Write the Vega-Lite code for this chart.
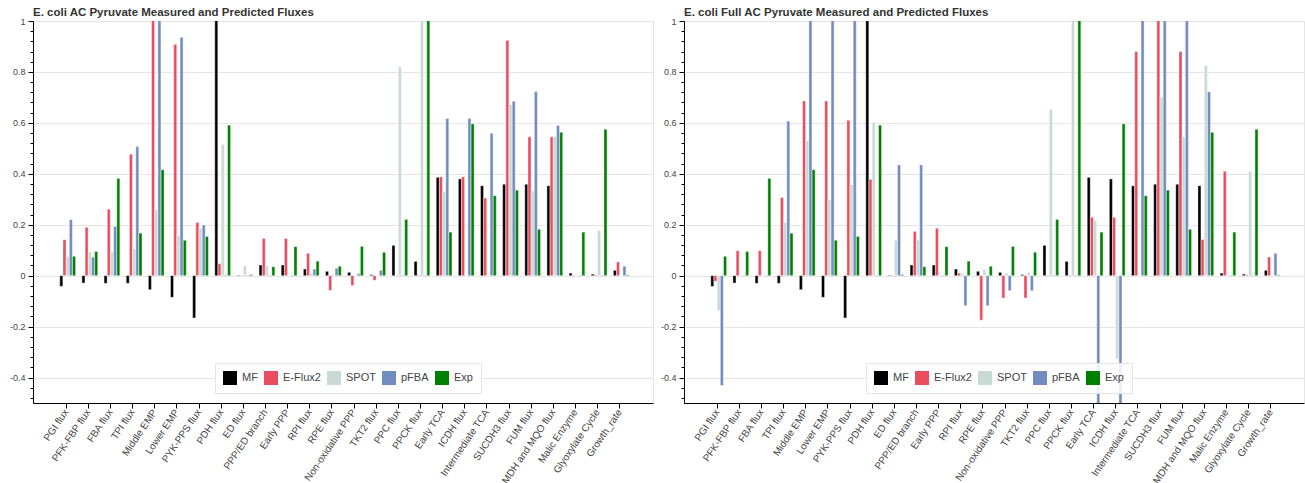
{
  "$schema": "https://vega.github.io/schema/vega-lite/v6.json",
  "padding": {"left": 3, "top": 6, "right": 2, "bottom": 0},
  "spacing": 0,
  "config": {
    "font": "Liberation Sans",
    "view": {"stroke": "#e5e5e5"},
    "axis": {"labelColor": "#444", "labelFont": "Liberation Sans", "domainColor": "#000", "tickColor": "#000", "gridColor": "#e5e5e5", "titleFontSize": 0}
  },
  "resolve": {"legend": {"color": "independent"}},
  "datasets": {
    "left": [
      {"cat": "PGI flux", "method": "MF", "value": -0.042}, {"cat": "PGI flux", "method": "E-Flux2", "value": 0.141}, {"cat": "PGI flux", "method": "SPOT", "value": 0.075}, {"cat": "PGI flux", "method": "pFBA", "value": 0.22}, {"cat": "PGI flux", "method": "Exp", "value": 0.076},
      {"cat": "PFK-FBP flux", "method": "MF", "value": -0.029}, {"cat": "PFK-FBP flux", "method": "E-Flux2", "value": 0.19}, {"cat": "PFK-FBP flux", "method": "SPOT", "value": 0.093}, {"cat": "PFK-FBP flux", "method": "pFBA", "value": 0.073}, {"cat": "PFK-FBP flux", "method": "Exp", "value": 0.095},
      {"cat": "FBA flux", "method": "MF", "value": -0.03}, {"cat": "FBA flux", "method": "E-Flux2", "value": 0.261}, {"cat": "FBA flux", "method": "SPOT", "value": 0.093}, {"cat": "FBA flux", "method": "pFBA", "value": 0.193}, {"cat": "FBA flux", "method": "Exp", "value": 0.382},
      {"cat": "TPI flux", "method": "MF", "value": -0.03}, {"cat": "TPI flux", "method": "E-Flux2", "value": 0.477}, {"cat": "TPI flux", "method": "SPOT", "value": 0.105}, {"cat": "TPI flux", "method": "pFBA", "value": 0.507}, {"cat": "TPI flux", "method": "Exp", "value": 0.167},
      {"cat": "Middle EMP", "method": "MF", "value": -0.055}, {"cat": "Middle EMP", "method": "E-Flux2", "value": 1.2}, {"cat": "Middle EMP", "method": "SPOT", "value": 0.259}, {"cat": "Middle EMP", "method": "pFBA", "value": 1.2}, {"cat": "Middle EMP", "method": "Exp", "value": 0.416},
      {"cat": "Lower EMP", "method": "MF", "value": -0.085}, {"cat": "Lower EMP", "method": "E-Flux2", "value": 0.908}, {"cat": "Lower EMP", "method": "SPOT", "value": 0.158}, {"cat": "Lower EMP", "method": "pFBA", "value": 0.936}, {"cat": "Lower EMP", "method": "Exp", "value": 0.139},
      {"cat": "PYK-PPS flux", "method": "MF", "value": -0.166}, {"cat": "PYK-PPS flux", "method": "E-Flux2", "value": 0.209}, {"cat": "PYK-PPS flux", "method": "SPOT", "value": 0.187}, {"cat": "PYK-PPS flux", "method": "pFBA", "value": 0.199}, {"cat": "PYK-PPS flux", "method": "Exp", "value": 0.154},
      {"cat": "PDH flux", "method": "MF", "value": 1.2}, {"cat": "PDH flux", "method": "E-Flux2", "value": 0.047}, {"cat": "PDH flux", "method": "SPOT", "value": 0.515}, {"cat": "PDH flux", "method": "pFBA", "value": 0.003}, {"cat": "PDH flux", "method": "Exp", "value": 0.591},
      {"cat": "ED flux", "method": "MF", "value": 0.002}, {"cat": "ED flux", "method": "E-Flux2", "value": 0.002}, {"cat": "ED flux", "method": "SPOT", "value": 0.039}, {"cat": "ED flux", "method": "pFBA", "value": 0.002}, {"cat": "ED flux", "method": "Exp", "value": 0.004},
      {"cat": "PPP/ED branch", "method": "MF", "value": 0.042}, {"cat": "PPP/ED branch", "method": "E-Flux2", "value": 0.146}, {"cat": "PPP/ED branch", "method": "SPOT", "value": 0.039}, {"cat": "PPP/ED branch", "method": "pFBA", "value": 0.002}, {"cat": "PPP/ED branch", "method": "Exp", "value": 0.035},
      {"cat": "Early PPP", "method": "MF", "value": 0.042}, {"cat": "Early PPP", "method": "E-Flux2", "value": 0.146}, {"cat": "Early PPP", "method": "SPOT", "value": 0}, {"cat": "Early PPP", "method": "pFBA", "value": 0.002}, {"cat": "Early PPP", "method": "Exp", "value": 0.114},
      {"cat": "RPI flux", "method": "MF", "value": 0.026}, {"cat": "RPI flux", "method": "E-Flux2", "value": 0.088}, {"cat": "RPI flux", "method": "SPOT", "value": 0.01}, {"cat": "RPI flux", "method": "pFBA", "value": 0.026}, {"cat": "RPI flux", "method": "Exp", "value": 0.057},
      {"cat": "RPE flux", "method": "MF", "value": 0.017}, {"cat": "RPE flux", "method": "E-Flux2", "value": -0.058}, {"cat": "RPE flux", "method": "SPOT", "value": 0.006}, {"cat": "RPE flux", "method": "pFBA", "value": 0.029}, {"cat": "RPE flux", "method": "Exp", "value": 0.037},
      {"cat": "Non-oxidative PPP", "method": "MF", "value": 0.013}, {"cat": "Non-oxidative PPP", "method": "E-Flux2", "value": -0.039}, {"cat": "Non-oxidative PPP", "method": "SPOT", "value": 0}, {"cat": "Non-oxidative PPP", "method": "pFBA", "value": 0.008}, {"cat": "Non-oxidative PPP", "method": "Exp", "value": 0.115},
      {"cat": "TKT2 flux", "method": "MF", "value": 0.004}, {"cat": "TKT2 flux", "method": "E-Flux2", "value": -0.018}, {"cat": "TKT2 flux", "method": "SPOT", "value": 0}, {"cat": "TKT2 flux", "method": "pFBA", "value": 0.021}, {"cat": "TKT2 flux", "method": "Exp", "value": 0.092},
      {"cat": "PPC flux", "method": "MF", "value": 0.119}, {"cat": "PPC flux", "method": "E-Flux2", "value": 0.002}, {"cat": "PPC flux", "method": "SPOT", "value": 0.82}, {"cat": "PPC flux", "method": "pFBA", "value": 0.002}, {"cat": "PPC flux", "method": "Exp", "value": 0.221},
      {"cat": "PPCK flux", "method": "MF", "value": 0.056}, {"cat": "PPCK flux", "method": "E-Flux2", "value": 0.002}, {"cat": "PPCK flux", "method": "SPOT", "value": 1.2}, {"cat": "PPCK flux", "method": "pFBA", "value": 0.002}, {"cat": "PPCK flux", "method": "Exp", "value": 1.2},
      {"cat": "Early TCA", "method": "MF", "value": 0.386}, {"cat": "Early TCA", "method": "E-Flux2", "value": 0.388}, {"cat": "Early TCA", "method": "SPOT", "value": 0.329}, {"cat": "Early TCA", "method": "pFBA", "value": 0.617}, {"cat": "Early TCA", "method": "Exp", "value": 0.171},
      {"cat": "ICDH flux", "method": "MF", "value": 0.38}, {"cat": "ICDH flux", "method": "E-Flux2", "value": 0.388}, {"cat": "ICDH flux", "method": "SPOT", "value": 0}, {"cat": "ICDH flux", "method": "pFBA", "value": 0.617}, {"cat": "ICDH flux", "method": "Exp", "value": 0.596},
      {"cat": "Intermediate TCA", "method": "MF", "value": 0.353}, {"cat": "Intermediate TCA", "method": "E-Flux2", "value": 0.305}, {"cat": "Intermediate TCA", "method": "SPOT", "value": 0}, {"cat": "Intermediate TCA", "method": "pFBA", "value": 0.559}, {"cat": "Intermediate TCA", "method": "Exp", "value": 0.314},
      {"cat": "SUCDH3 flux", "method": "MF", "value": 0.359}, {"cat": "SUCDH3 flux", "method": "E-Flux2", "value": 0.924}, {"cat": "SUCDH3 flux", "method": "SPOT", "value": 0.672}, {"cat": "SUCDH3 flux", "method": "pFBA", "value": 0.685}, {"cat": "SUCDH3 flux", "method": "Exp", "value": 0.336},
      {"cat": "FUM flux", "method": "MF", "value": 0.359}, {"cat": "FUM flux", "method": "E-Flux2", "value": 0.545}, {"cat": "FUM flux", "method": "SPOT", "value": 0.333}, {"cat": "FUM flux", "method": "pFBA", "value": 0.723}, {"cat": "FUM flux", "method": "Exp", "value": 0.182},
      {"cat": "MDH and MQO flux", "method": "MF", "value": 0.353}, {"cat": "MDH and MQO flux", "method": "E-Flux2", "value": 0.545}, {"cat": "MDH and MQO flux", "method": "SPOT", "value": 0.546}, {"cat": "MDH and MQO flux", "method": "pFBA", "value": 0.59}, {"cat": "MDH and MQO flux", "method": "Exp", "value": 0.563},
      {"cat": "Malic Enzyme", "method": "MF", "value": 0.01}, {"cat": "Malic Enzyme", "method": "E-Flux2", "value": 0.002}, {"cat": "Malic Enzyme", "method": "SPOT", "value": 0}, {"cat": "Malic Enzyme", "method": "pFBA", "value": 0.002}, {"cat": "Malic Enzyme", "method": "Exp", "value": 0.171},
      {"cat": "Glyoxylate Cycle", "method": "MF", "value": 0.006}, {"cat": "Glyoxylate Cycle", "method": "E-Flux2", "value": 0.003}, {"cat": "Glyoxylate Cycle", "method": "SPOT", "value": 0.178}, {"cat": "Glyoxylate Cycle", "method": "pFBA", "value": 0.002}, {"cat": "Glyoxylate Cycle", "method": "Exp", "value": 0.575},
      {"cat": "Growth_rate", "method": "MF", "value": 0.021}, {"cat": "Growth_rate", "method": "E-Flux2", "value": 0.054}, {"cat": "Growth_rate", "method": "SPOT", "value": 0}, {"cat": "Growth_rate", "method": "pFBA", "value": 0.037}, {"cat": "Growth_rate", "method": "Exp", "value": 0.003}
    ],
    "right": [
      {"cat": "PGI flux", "method": "MF", "value": -0.042}, {"cat": "PGI flux", "method": "E-Flux2", "value": -0.022}, {"cat": "PGI flux", "method": "SPOT", "value": -0.137}, {"cat": "PGI flux", "method": "pFBA", "value": -0.431}, {"cat": "PGI flux", "method": "Exp", "value": 0.076},
      {"cat": "PFK-FBP flux", "method": "MF", "value": -0.029}, {"cat": "PFK-FBP flux", "method": "E-Flux2", "value": 0.098}, {"cat": "PFK-FBP flux", "method": "SPOT", "value": 0}, {"cat": "PFK-FBP flux", "method": "pFBA", "value": 0.002}, {"cat": "PFK-FBP flux", "method": "Exp", "value": 0.095},
      {"cat": "FBA flux", "method": "MF", "value": -0.03}, {"cat": "FBA flux", "method": "E-Flux2", "value": 0.098}, {"cat": "FBA flux", "method": "SPOT", "value": 0}, {"cat": "FBA flux", "method": "pFBA", "value": 0.002}, {"cat": "FBA flux", "method": "Exp", "value": 0.382},
      {"cat": "TPI flux", "method": "MF", "value": -0.03}, {"cat": "TPI flux", "method": "E-Flux2", "value": 0.307}, {"cat": "TPI flux", "method": "SPOT", "value": 0.209}, {"cat": "TPI flux", "method": "pFBA", "value": 0.607}, {"cat": "TPI flux", "method": "Exp", "value": 0.167},
      {"cat": "Middle EMP", "method": "MF", "value": -0.055}, {"cat": "Middle EMP", "method": "E-Flux2", "value": 0.686}, {"cat": "Middle EMP", "method": "SPOT", "value": 0.531}, {"cat": "Middle EMP", "method": "pFBA", "value": 1.2}, {"cat": "Middle EMP", "method": "Exp", "value": 0.416},
      {"cat": "Lower EMP", "method": "MF", "value": -0.085}, {"cat": "Lower EMP", "method": "E-Flux2", "value": 0.686}, {"cat": "Lower EMP", "method": "SPOT", "value": 0.298}, {"cat": "Lower EMP", "method": "pFBA", "value": 1.2}, {"cat": "Lower EMP", "method": "Exp", "value": 0.139},
      {"cat": "PYK-PPS flux", "method": "MF", "value": -0.166}, {"cat": "PYK-PPS flux", "method": "E-Flux2", "value": 0.61}, {"cat": "PYK-PPS flux", "method": "SPOT", "value": 0.357}, {"cat": "PYK-PPS flux", "method": "pFBA", "value": 1.2}, {"cat": "PYK-PPS flux", "method": "Exp", "value": 0.154},
      {"cat": "PDH flux", "method": "MF", "value": 1.2}, {"cat": "PDH flux", "method": "E-Flux2", "value": 0.378}, {"cat": "PDH flux", "method": "SPOT", "value": 0.601}, {"cat": "PDH flux", "method": "pFBA", "value": 0.002}, {"cat": "PDH flux", "method": "Exp", "value": 0.591},
      {"cat": "ED flux", "method": "MF", "value": 0.002}, {"cat": "ED flux", "method": "E-Flux2", "value": -0.002}, {"cat": "ED flux", "method": "SPOT", "value": 0.139}, {"cat": "ED flux", "method": "pFBA", "value": 0.435}, {"cat": "ED flux", "method": "Exp", "value": 0.004},
      {"cat": "PPP/ED branch", "method": "MF", "value": 0.042}, {"cat": "PPP/ED branch", "method": "E-Flux2", "value": 0.174}, {"cat": "PPP/ED branch", "method": "SPOT", "value": 0.139}, {"cat": "PPP/ED branch", "method": "pFBA", "value": 0.435}, {"cat": "PPP/ED branch", "method": "Exp", "value": 0.035},
      {"cat": "Early PPP", "method": "MF", "value": 0.042}, {"cat": "Early PPP", "method": "E-Flux2", "value": 0.186}, {"cat": "Early PPP", "method": "SPOT", "value": 0}, {"cat": "Early PPP", "method": "pFBA", "value": 0.002}, {"cat": "Early PPP", "method": "Exp", "value": 0.114},
      {"cat": "RPI flux", "method": "MF", "value": 0.026}, {"cat": "RPI flux", "method": "E-Flux2", "value": 0.01}, {"cat": "RPI flux", "method": "SPOT", "value": 0.008}, {"cat": "RPI flux", "method": "pFBA", "value": -0.118}, {"cat": "RPI flux", "method": "Exp", "value": 0.057},
      {"cat": "RPE flux", "method": "MF", "value": 0.017}, {"cat": "RPE flux", "method": "E-Flux2", "value": -0.175}, {"cat": "RPE flux", "method": "SPOT", "value": 0.024}, {"cat": "RPE flux", "method": "pFBA", "value": -0.118}, {"cat": "RPE flux", "method": "Exp", "value": 0.037},
      {"cat": "Non-oxidative PPP", "method": "MF", "value": 0.013}, {"cat": "Non-oxidative PPP", "method": "E-Flux2", "value": -0.088}, {"cat": "Non-oxidative PPP", "method": "SPOT", "value": 0.01}, {"cat": "Non-oxidative PPP", "method": "pFBA", "value": -0.059}, {"cat": "Non-oxidative PPP", "method": "Exp", "value": 0.115},
      {"cat": "TKT2 flux", "method": "MF", "value": 0.004}, {"cat": "TKT2 flux", "method": "E-Flux2", "value": -0.088}, {"cat": "TKT2 flux", "method": "SPOT", "value": 0.013}, {"cat": "TKT2 flux", "method": "pFBA", "value": -0.059}, {"cat": "TKT2 flux", "method": "Exp", "value": 0.092},
      {"cat": "PPC flux", "method": "MF", "value": 0.119}, {"cat": "PPC flux", "method": "E-Flux2", "value": 0.002}, {"cat": "PPC flux", "method": "SPOT", "value": 0.654}, {"cat": "PPC flux", "method": "pFBA", "value": 0.002}, {"cat": "PPC flux", "method": "Exp", "value": 0.221},
      {"cat": "PPCK flux", "method": "MF", "value": 0.056}, {"cat": "PPCK flux", "method": "E-Flux2", "value": 0.002}, {"cat": "PPCK flux", "method": "SPOT", "value": 1.2}, {"cat": "PPCK flux", "method": "pFBA", "value": 0.002}, {"cat": "PPCK flux", "method": "Exp", "value": 1.2},
      {"cat": "Early TCA", "method": "MF", "value": 0.386}, {"cat": "Early TCA", "method": "E-Flux2", "value": 0.229}, {"cat": "Early TCA", "method": "SPOT", "value": 0.217}, {"cat": "Early TCA", "method": "pFBA", "value": -0.6}, {"cat": "Early TCA", "method": "Exp", "value": 0.171},
      {"cat": "ICDH flux", "method": "MF", "value": 0.38}, {"cat": "ICDH flux", "method": "E-Flux2", "value": 0.229}, {"cat": "ICDH flux", "method": "SPOT", "value": -0.327}, {"cat": "ICDH flux", "method": "pFBA", "value": -0.6}, {"cat": "ICDH flux", "method": "Exp", "value": 0.596},
      {"cat": "Intermediate TCA", "method": "MF", "value": 0.353}, {"cat": "Intermediate TCA", "method": "E-Flux2", "value": 0.88}, {"cat": "Intermediate TCA", "method": "SPOT", "value": 0}, {"cat": "Intermediate TCA", "method": "pFBA", "value": 1.2}, {"cat": "Intermediate TCA", "method": "Exp", "value": 0.314},
      {"cat": "SUCDH3 flux", "method": "MF", "value": 0.359}, {"cat": "SUCDH3 flux", "method": "E-Flux2", "value": 1.2}, {"cat": "SUCDH3 flux", "method": "SPOT", "value": 0.701}, {"cat": "SUCDH3 flux", "method": "pFBA", "value": 1.2}, {"cat": "SUCDH3 flux", "method": "Exp", "value": 0.336},
      {"cat": "FUM flux", "method": "MF", "value": 0.359}, {"cat": "FUM flux", "method": "E-Flux2", "value": 0.88}, {"cat": "FUM flux", "method": "SPOT", "value": 0.545}, {"cat": "FUM flux", "method": "pFBA", "value": 1.2}, {"cat": "FUM flux", "method": "Exp", "value": 0.182},
      {"cat": "MDH and MQO flux", "method": "MF", "value": 0.353}, {"cat": "MDH and MQO flux", "method": "E-Flux2", "value": 0.142}, {"cat": "MDH and MQO flux", "method": "SPOT", "value": 0.825}, {"cat": "MDH and MQO flux", "method": "pFBA", "value": 0.722}, {"cat": "MDH and MQO flux", "method": "Exp", "value": 0.563},
      {"cat": "Malic Enzyme", "method": "MF", "value": 0.01}, {"cat": "Malic Enzyme", "method": "E-Flux2", "value": 0.41}, {"cat": "Malic Enzyme", "method": "SPOT", "value": 0}, {"cat": "Malic Enzyme", "method": "pFBA", "value": 0.002}, {"cat": "Malic Enzyme", "method": "Exp", "value": 0.171},
      {"cat": "Glyoxylate Cycle", "method": "MF", "value": 0.006}, {"cat": "Glyoxylate Cycle", "method": "E-Flux2", "value": 0.003}, {"cat": "Glyoxylate Cycle", "method": "SPOT", "value": 0.41}, {"cat": "Glyoxylate Cycle", "method": "pFBA", "value": 0.002}, {"cat": "Glyoxylate Cycle", "method": "Exp", "value": 0.575},
      {"cat": "Growth_rate", "method": "MF", "value": 0.021}, {"cat": "Growth_rate", "method": "E-Flux2", "value": 0.073}, {"cat": "Growth_rate", "method": "SPOT", "value": 0}, {"cat": "Growth_rate", "method": "pFBA", "value": 0.088}, {"cat": "Growth_rate", "method": "Exp", "value": 0.003}
    ]
  },
  "hconcat": [
    {
      "title": {"text": "E. coli AC Pyruvate Measured and Predicted Fluxes", "anchor": "start", "frame": "group", "fontSize": 11.5, "fontWeight": "bold", "color": "#333", "offset": -1},
      "width": 620, "height": 382,
      "data": {"name": "left"},
      "layer": [
        {
          "mark": {"type": "bar", "clip": true, "stroke": "white", "strokeWidth": 0.4},
          "encoding": {
            "x": {"field": "cat", "type": "nominal", "sort": ["PGI flux","PFK-FBP flux","FBA flux","TPI flux","Middle EMP","Lower EMP","PYK-PPS flux","PDH flux","ED flux","PPP/ED branch","Early PPP","RPI flux","RPE flux","Non-oxidative PPP","TKT2 flux","PPC flux","PPCK flux","Early TCA","ICDH flux","Intermediate TCA","SUCDH3 flux","FUM flux","MDH and MQO flux","Malic Enzyme","Glyoxylate Cycle","Growth_rate"], "scale": {"paddingInner": 0, "paddingOuter": 1}, "axis": {"title": null, "labelAngle": -56, "labelFontSize": 10, "tickSize": 5, "labelPadding": 2, "grid": false}},
            "xOffset": {"field": "method", "type": "nominal", "sort": ["MF","E-Flux2","SPOT","pFBA","Exp"], "scale": {"paddingInner": 0.05, "paddingOuter": 1.275, "align": 0.73}},
            "y": {"field": "value", "type": "quantitative", "stack": null, "scale": {"domain": [-0.5, 1], "nice": false}, "axis": {"title": null, "values": [-0.4,-0.2,0,0.2,0.4,0.6,0.8,1], "labelExpr": "toString(datum.value)", "labelFontSize": 9, "tickSize": 5, "labelPadding": 3, "grid": true, "minExtent": 29, "maxExtent": 29, "orient": "left"}},
            "color": {"field": "method", "type": "nominal", "sort": ["MF","E-Flux2","SPOT","pFBA","Exp"], "scale": {"domain": ["MF","E-Flux2","SPOT","pFBA","Exp"], "range": ["#000000","#e84d60","#c9d9d3","#718dbf","#008000"]}, "legend": {"title": null, "orient": "none", "legendX": 182, "legendY": 342, "direction": "horizontal", "columns": 5, "symbolType": "square", "symbolSize": 196, "symbolStrokeWidth": 0, "symbolOpacity": 1, "labelFontSize": 11, "labelColor": "#444", "fillColor": "rgba(255,255,255,0.85)", "strokeColor": "#e5e5e5", "padding": 8, "columnPadding": 6, "labelOffset": 5}}
          }
        },
        {
          "mark": {"type": "tick", "opacity": 0, "clip": true},
          "encoding": {
            "x": {"field": "cat", "type": "nominal", "sort": ["PGI flux","PFK-FBP flux","FBA flux","TPI flux","Middle EMP","Lower EMP","PYK-PPS flux","PDH flux","ED flux","PPP/ED branch","Early PPP","RPI flux","RPE flux","Non-oxidative PPP","TKT2 flux","PPC flux","PPCK flux","Early TCA","ICDH flux","Intermediate TCA","SUCDH3 flux","FUM flux","MDH and MQO flux","Malic Enzyme","Glyoxylate Cycle","Growth_rate"]},
            "y": {"field": "value", "type": "quantitative", "axis": {"title": null, "orient": "left", "values": [-0.48,-0.44,-0.36,-0.32,-0.28,-0.24,-0.16,-0.12,-0.08,-0.04,0.04,0.08,0.12,0.16,0.24,0.28,0.32,0.36,0.44,0.48,0.52,0.56,0.64,0.68,0.72,0.76,0.84,0.88,0.92,0.96], "labels": false, "domain": false, "grid": false, "tickSize": 3, "minExtent": 29, "maxExtent": 29}}
          }
        }
      ],
      "resolve": {"axis": {"y": "independent"}}
    },
    {
      "title": {"text": "E. coli Full AC Pyruvate Measured and Predicted Fluxes", "anchor": "start", "frame": "group", "fontSize": 11.5, "fontWeight": "bold", "color": "#333", "offset": -1},
      "width": 620, "height": 382,
      "data": {"name": "right"},
      "layer": [
        {
          "mark": {"type": "bar", "clip": true, "stroke": "white", "strokeWidth": 0.4},
          "encoding": {
            "x": {"field": "cat", "type": "nominal", "sort": ["PGI flux","PFK-FBP flux","FBA flux","TPI flux","Middle EMP","Lower EMP","PYK-PPS flux","PDH flux","ED flux","PPP/ED branch","Early PPP","RPI flux","RPE flux","Non-oxidative PPP","TKT2 flux","PPC flux","PPCK flux","Early TCA","ICDH flux","Intermediate TCA","SUCDH3 flux","FUM flux","MDH and MQO flux","Malic Enzyme","Glyoxylate Cycle","Growth_rate"], "scale": {"paddingInner": 0, "paddingOuter": 1}, "axis": {"title": null, "labelAngle": -56, "labelFontSize": 10, "tickSize": 5, "labelPadding": 2, "grid": false}},
            "xOffset": {"field": "method", "type": "nominal", "sort": ["MF","E-Flux2","SPOT","pFBA","Exp"], "scale": {"paddingInner": 0.05, "paddingOuter": 1.275, "align": 0.73}},
            "y": {"field": "value", "type": "quantitative", "stack": null, "scale": {"domain": [-0.5, 1], "nice": false}, "axis": {"title": null, "values": [-0.4,-0.2,0,0.2,0.4,0.6,0.8,1], "labelExpr": "toString(datum.value)", "labelFontSize": 9, "tickSize": 5, "labelPadding": 3, "grid": true, "minExtent": 29, "maxExtent": 29, "orient": "left"}},
            "color": {"field": "method", "type": "nominal", "sort": ["MF","E-Flux2","SPOT","pFBA","Exp"], "scale": {"domain": ["MF","E-Flux2","SPOT","pFBA","Exp"], "range": ["#000000","#e84d60","#c9d9d3","#718dbf","#008000"]}, "legend": {"title": null, "orient": "none", "legendX": 182, "legendY": 342, "direction": "horizontal", "columns": 5, "symbolType": "square", "symbolSize": 196, "symbolStrokeWidth": 0, "symbolOpacity": 1, "labelFontSize": 11, "labelColor": "#444", "fillColor": "rgba(255,255,255,0.85)", "strokeColor": "#e5e5e5", "padding": 8, "columnPadding": 6, "labelOffset": 5}}
          }
        },
        {
          "mark": {"type": "tick", "opacity": 0, "clip": true},
          "encoding": {
            "x": {"field": "cat", "type": "nominal", "sort": ["PGI flux","PFK-FBP flux","FBA flux","TPI flux","Middle EMP","Lower EMP","PYK-PPS flux","PDH flux","ED flux","PPP/ED branch","Early PPP","RPI flux","RPE flux","Non-oxidative PPP","TKT2 flux","PPC flux","PPCK flux","Early TCA","ICDH flux","Intermediate TCA","SUCDH3 flux","FUM flux","MDH and MQO flux","Malic Enzyme","Glyoxylate Cycle","Growth_rate"]},
            "y": {"field": "value", "type": "quantitative", "axis": {"title": null, "orient": "left", "values": [-0.48,-0.44,-0.36,-0.32,-0.28,-0.24,-0.16,-0.12,-0.08,-0.04,0.04,0.08,0.12,0.16,0.24,0.28,0.32,0.36,0.44,0.48,0.52,0.56,0.64,0.68,0.72,0.76,0.84,0.88,0.92,0.96], "labels": false, "domain": false, "grid": false, "tickSize": 3, "minExtent": 29, "maxExtent": 29}}
          }
        }
      ],
      "resolve": {"axis": {"y": "independent"}}
    }
  ]
}
